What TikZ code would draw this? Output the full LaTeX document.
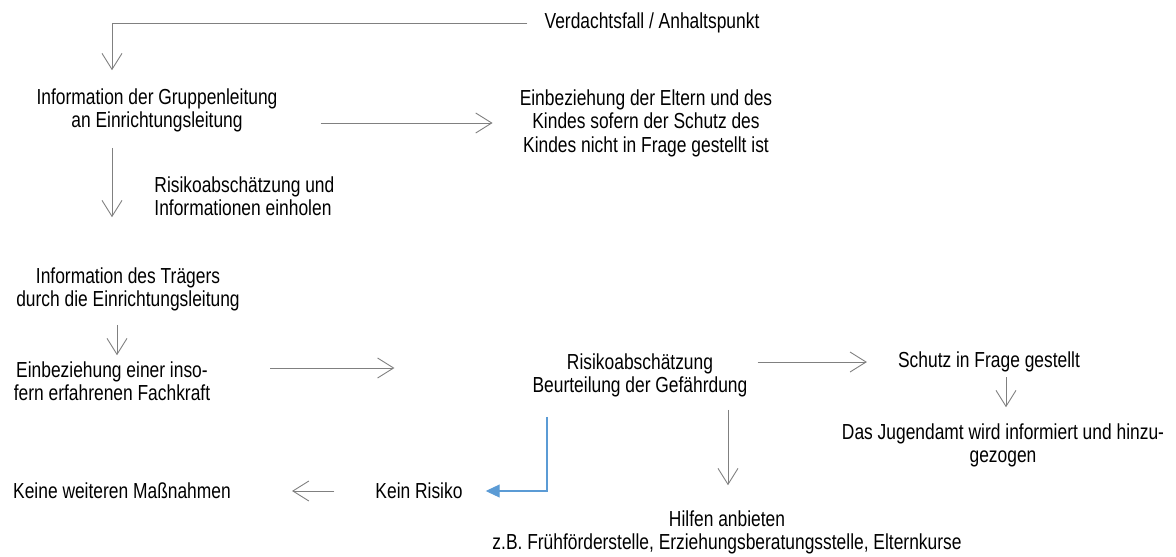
\documentclass[tikz,border=0pt]{standalone}
\usepackage{fontspec}
\setmainfont[FakeStretch=0.8]{Liberation Sans}
\usepackage{tikz}
\usetikzlibrary{arrows.meta,positioning,calc}

\definecolor{pfeilgrau}{HTML}{808080}
\definecolor{pfeilblau}{HTML}{5B9BD5}

\tikzset{
	txt/.style={draw=none, inner sep=0pt, align=center, text depth=0pt, font=\fontsize{21.75}{23.4}\selectfont},
	pfeil/.style={draw=pfeilgrau, line width=0.9pt, -{Straight Barb[length=16pt,width=20pt,line width=0.9pt]}},
	blaupfeil/.style={draw=pfeilblau, line width=1.1pt, -{Triangle[length=14pt,width=13pt]}, fill=none}
}

\begin{document}
\begin{tikzpicture}[x=1pt,y=-1pt]
	\useasboundingbox (0,0) rectangle (1176,557);
	
	\node[txt] (verdacht) at (652,21) {Verdachtsfall / Anhaltspunkt};
	\node[txt] (info) at (157,108) {Information der Gruppenleitung\\an Einrichtungsleitung};
	\node[txt] (eltern) at (646,121) {Einbeziehung der Eltern und des\\Kindes sofern der Schutz des\\Kindes nicht in Frage gestellt ist};
	\node[txt] (traeger) at (128,287) {Information des Trägers\\durch die Einrichtungsleitung};
	\node[txt] (fachkraft) at (112,381) {Einbeziehung einer inso-\\fern erfahrenen Fachkraft};
	\node[txt] (beurteilung) at (640,373) {Risikoabschätzung\\Beurteilung der Gefährdung};
	\node[txt] (schutz) at (989,360) {Schutz in Frage gestellt};
	\node[txt] (jugendamt) at (1003,443) {Das Jugendamt wird informiert und hinzu-\\gezogen};
	\node[txt] (hilfen) at (727,530) {Hilfen anbieten\\z.B. Frühförderstelle, Erziehungsberatungsstelle, Elternkurse};
	\node[txt] (keinrisiko) at (419,491) {Kein Risiko};
	\node[txt] (keine) at (122,491) {Keine weiteren Maßnahmen};
	
	\draw[pfeil] ([xshift=-17pt,yshift=-2pt]verdacht.west) -| ([xshift=-45pt,yshift=18pt]info.north);
	\draw[pfeil] ([xshift=43pt,yshift=-15pt]info.east) -- ([xshift=-27pt,yshift=-2pt]eltern.west);
	\draw[pfeil] ([xshift=-45pt,yshift=-20pt]info.south) -- ([xshift=-16pt,yshift=50pt]traeger.north)
		node[txt, align=left, anchor=west, pos=0.7, xshift=42pt] (einholen) {Risikoabschätzung und\\Informationen einholen};
	\draw[pfeil] ([xshift=-11pt,yshift=-18pt]traeger.south) -- ([xshift=5pt,yshift=6pt]fachkraft.north);
	\draw[pfeil] ([xshift=60pt,yshift=13pt]fachkraft.east) -- ([xshift=-138pt,yshift=5pt]beurteilung.west);
	\draw[pfeil] ([xshift=10pt,yshift=11pt]beurteilung.east) -- ([xshift=-31pt,yshift=-2pt]schutz.west);
	\draw[pfeil] ([xshift=17pt,yshift=-9pt]schutz.south) -- ([xshift=3pt,yshift=16pt]jugendamt.north);
	\draw[pfeil] ([xshift=88pt,yshift=-17pt]beurteilung.south) -- ([xshift=1pt,yshift=25pt]hilfen.north);
	\draw[blaupfeil] ([xshift=-93pt,yshift=-24pt]beurteilung.south) |- ([xshift=23pt]keinrisiko.east);
	\draw[pfeil] ([xshift=-41pt]keinrisiko.west) -- ([xshift=61pt]keine.east);
\end{tikzpicture}
\end{document}
